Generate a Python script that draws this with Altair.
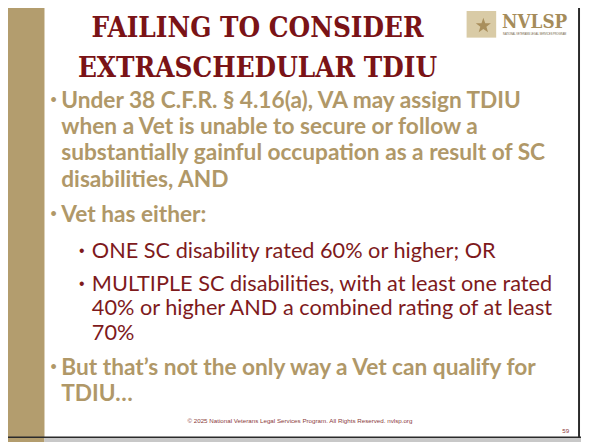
import altair as alt
import pandas as pd

# ---- slide content ----
title_lines = ["FAILING TO CONSIDER", "EXTRASCHEDULAR TDIU"]
main_1 = ["Under 38 C.F.R. § 4.16(a), VA may assign TDIU",
          "when a Vet is unable to secure or follow a",
          "substantially gainful occupation as a result of SC",
          "disabilities, AND"]
main_2 = ["Vet has either:"]
sub_1 = ["ONE SC disability rated 60% or higher; OR"]
sub_2 = ["MULTIPLE SC disabilities, with at least one rated",
         "40% or higher AND a combined rating of at least",
         "70%"]
main_3 = ["But that\u2019s not the only way a Vet can qualify for", "TDIU\u2026"]
footer_text = ["\u00a9 2025 National Veterans Legal Services Program. All Rights Reserved. nvlsp.org"]
page_number = ["59"]
logo_name = ["NVLSP"]
logo_sub = ["NATIONAL VETERANS LEGAL SERVICES PROGRAM"]

# ---- colours / fonts ----
TAN = "#b39d6e"
TAN_TEXT = "#b09868"
RED = "#7a1316"
SUB_RED = "#7e1a1c"
BODY_FONT = "Lato"
TITLE_FONT = "DejaVu Serif Condensed"

W, H = 581, 437
OFF = 8
xs = alt.Scale(domain=[OFF, OFF + W], range=[0, W], nice=False, zero=False)
ys = alt.Scale(domain=[OFF, OFF + H], range=[0, H], nice=False, zero=False)
X = lambda f: alt.X(f"{f}:Q", scale=xs, axis=None)
Y = lambda f: alt.Y(f"{f}:Q", scale=ys, axis=None)


def block(lines, x0, base0, step):
    return pd.DataFrame({"t": lines, "x": [x0] * len(lines),
                         "y": [base0 + i * step for i in range(len(lines))]})


def text_layer(df, size, color, font, weight="normal", align="left"):
    return alt.Chart(df).mark_text(
        align=align, baseline="alphabetic", fontSize=size, color=color,
        font=font, fontWeight=weight
    ).encode(x=X("x"), y=Y("y"), text="t:N")


# shapes
rects = pd.DataFrame({
    "x": [0, 0, 45, 473],
    "x2": [45, 45, 589, 503],
    "y": [0, 441, 441, 8],
    "y2": [441, 445, 445, 35],
    "c": [TAN, TAN, "#c8c8c8", "#d9cba6"],
})
rect_layer = alt.Chart(rects).mark_rect().encode(
    x=X("x"), x2="x2:Q", y=Y("y"), y2="y2:Q",
    color=alt.Color("c:N", scale=None))

borders = pd.DataFrame({"x": [0, 586], "x2": [589, 588], "y": [439.5, 0], "y2": [441, 441]})
border_layer = alt.Chart(borders).mark_rect(color="#2b2b2b").encode(
    x=X("x"), x2="x2:Q", y=Y("y"), y2="y2:Q")

star_path = ("M0,-1L0.235,-0.324L0.951,-0.309L0.38,0.124L0.588,0.809"
             "L0,0.4L-0.588,0.809L-0.38,0.124L-0.951,-0.309L-0.235,-0.324Z")
star_layer = alt.Chart(pd.DataFrame({"x": [490], "y": [23]})).mark_point(
    shape=star_path, size=260, filled=True, color="#a98f5c", opacity=1
).encode(x=X("x"), y=Y("y"))

title_layer = text_layer(block(title_lines, 261, 34, 41), 28, RED, TITLE_FONT, "bold", "center")

body_layers = [
    text_layer(block(main_1, 62, 106, 26.7), 23, TAN_TEXT, BODY_FONT, "bold"),
    text_layer(block(main_2, 62, 222, 26.7), 23, TAN_TEXT, BODY_FONT, "bold"),
    text_layer(block(main_3, 62, 377, 26.7), 23, TAN_TEXT, BODY_FONT, "bold"),
    text_layer(block(sub_1, 93, 258, 24.7), 22, SUB_RED, BODY_FONT),
    text_layer(block(sub_2, 93, 292, 24.7), 22, SUB_RED, BODY_FONT),
]

bullets_main = pd.DataFrame({"t": ["\u2022"] * 3, "x": [51] * 3, "y": [104, 220, 375]})
bullets_sub = pd.DataFrame({"t": ["\u2022"] * 2, "x": [80] * 2, "y": [256, 290]})
bullet_layers = [
    text_layer(bullets_main, 18, TAN_TEXT, "Liberation Sans"),
    text_layer(bullets_sub, 16, SUB_RED, "Liberation Sans"),
]

footer_layers = [
    text_layer(block(footer_text, 304, 426, 0), 6.3, "#8a3a3a", "Liberation Sans", align="center"),
    text_layer(block(page_number, 577, 436, 0), 6.3, "#8a3a3a", "Liberation Sans", align="right"),
]

logo_layers = [
    text_layer(block(logo_name, 509, 25, 0), 19, "#a58c5a", TITLE_FONT, "bold"),
    text_layer(block(logo_sub, 510, 32, 0), 2.6, "#6d5a3a", "Liberation Sans"),
]

chart = alt.layer(
    rect_layer, border_layer, star_layer, title_layer,
    *body_layers, *bullet_layers, *footer_layers, *logo_layers
).properties(
    width=W, height=H, padding=0, autosize=alt.AutoSizeParams(type="none"),
    background="white"
).configure_view(stroke=None)

chart.save("out.html", embed_options={"renderer": "svg", "actions": False})
